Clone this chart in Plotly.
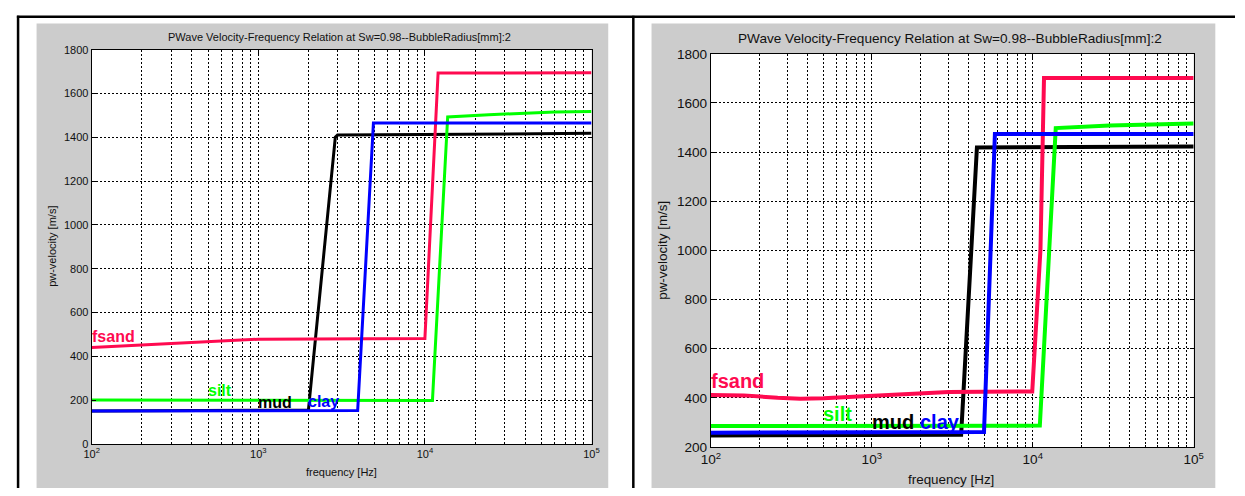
import numpy as np
import plotly.graph_objects as go

W, H = 1245, 496
TITLE = "PWave Velocity-Frequency Relation at Sw=0.98--BubbleRadius[mm]:2"
names = ["mud", "fsand", "silt", "clay"]
colors = {"fsand": "#ff0a50", "silt": "#00ff00", "clay": "#0000ff", "mud": "#000000"}

# ---------- left panel data ----------
L_fsand_f = [100, 200, 400, 600, 1000, 10000, 12000, 100000]
L_fsand_v = [440, 452, 465, 472, 478, 481, 1693, 1695]
L_silt_f = [100, 1000, 11100, 13700, 24200, 60000, 100000]
L_silt_v = [200, 198, 198, 1493, 1503, 1515, 1518]
L_clay_f = [100, 3950, 4910, 100000]
L_clay_v = [150, 152, 1465, 1465]
L_mud_f = [100, 2000, 2900, 2990, 100000]
L_mud_v = [150, 155, 1400, 1410, 1418]
L_label_f = {"fsand": 100, "silt": 500, "mud": 1000, "clay": 2000}
L_label_v = {"fsand": 489, "silt": 242, "mud": 190, "clay": 192}

# ---------- right panel data ----------
R_fsand_f = [100, 160, 260, 360, 500, 800, 1400, 3000, 9930, 11170, 11750, 100000]
R_fsand_v = [412, 410, 400, 396, 398, 404, 414, 424, 426, 1004, 1702, 1702]
R_silt_f = [100, 11070, 13900, 30000, 100000]
R_silt_v = [285, 287, 1498, 1508, 1517]
R_clay_f = [100, 4980, 5820, 100000]
R_clay_v = [258, 261, 1474, 1474]
R_mud_f = [100, 3590, 4500, 33000, 34000, 100000]
R_mud_v = [247, 250, 1419, 1420, 1423, 1423]
R_label_f = {"fsand": 100, "silt": 500, "mud": 1000, "clay": 2000}
R_label_v = {"fsand": 467, "silt": 336, "mud": 303, "clay": 300}

L_yticks = list(range(0, 1801, 200))
R_yticks = list(range(200, 1801, 200))
x_major = [100, 1000, 10000, 100000]
x_major_text = ["10<sup>2</sup>", "10<sup>3</sup>", "10<sup>4</sup>", "10<sup>5</sup>"]
x_minor = [m * 10 ** e for e in (2, 3, 4) for m in range(2, 10)]

left = {"fsand": (L_fsand_f, L_fsand_v), "silt": (L_silt_f, L_silt_v),
        "clay": (L_clay_f, L_clay_v), "mud": (L_mud_f, L_mud_v)}
right = {"fsand": (R_fsand_f, R_fsand_v), "silt": (R_silt_f, R_silt_v),
         "clay": (R_clay_f, R_clay_v), "mud": (R_mud_f, R_mud_v)}

FONT = "Liberation Sans, Arial, Helvetica, sans-serif"

def px(x):
    return x / W

def py(y):
    return 1 - y / H

# plot area pixel boxes in window coordinates (left, top, right, bottom)
LBOX = (83, 44, 591, 450.5)
RBOX = (712.3, 48.3, 1203, 453.7)

fig = go.Figure()
for n in names:
    f, v = left[n]
    fig.add_trace(go.Scatter(x=f, y=v, mode="lines", line=dict(color=colors[n], width=3),
                             xaxis="x", yaxis="y", showlegend=False, name=n))
for n in names:
    f, v = right[n]
    fig.add_trace(go.Scatter(x=f, y=v, mode="lines", line=dict(color=colors[n], width=4),
                             xaxis="x2", yaxis="y2", showlegend=False, name=n))

def xaxis(box, fs):
    return dict(type="log", range=[2, 5], domain=[px(box[0]), px(box[2])],
                tickmode="array", tickvals=x_major, ticktext=x_major_text, ticks="inside", ticklen=4,
                tickcolor="#000", showline=True, linecolor="#000", linewidth=1, mirror="ticks",
                showgrid=True, gridcolor="#000", gridwidth=1, griddash="2px,2px",
                minor=dict(tickmode="array", tickvals=x_minor, ticks="inside", ticklen=2,
                           tickcolor="#000", showgrid=True, gridcolor="#000", gridwidth=1,
                           griddash="2px,2px"),
                zeroline=False, tickfont=dict(family=FONT, size=fs, color="#111"))

def yaxis(box, fs, rng, ticks, anchor):
    return dict(range=rng, domain=[py(box[3]), py(box[1])], tickvals=ticks,
                ticks="inside", ticklen=4, tickcolor="#000", showline=True, linecolor="#000",
                linewidth=1, mirror="ticks", showgrid=True, gridcolor="#000", gridwidth=1,
                griddash="2px,2px", zeroline=False, anchor=anchor,
                tickfont=dict(family=FONT, size=fs, color="#111"))

shapes = [
    dict(type="rect", xref="paper", yref="paper", x0=px(27), x1=px(608), y0=0, y1=py(17),
         fillcolor="#cccccc", line=dict(width=0), layer="below"),
    dict(type="rect", xref="paper", yref="paper", x0=px(652), x1=px(1225), y0=0, y1=py(17),
         fillcolor="#cccccc", line=dict(width=0), layer="below"),
    dict(type="rect", xref="paper", yref="paper", x0=px(LBOX[0]), x1=px(LBOX[2]), y0=py(LBOX[3]), y1=py(LBOX[1]),
         fillcolor="#ffffff", line=dict(width=0), layer="below"),
    dict(type="rect", xref="paper", yref="paper", x0=px(RBOX[0]), x1=px(RBOX[2]), y0=py(RBOX[3]), y1=py(RBOX[1]),
         fillcolor="#ffffff", line=dict(width=0), layer="below"),
    dict(type="line", xref="paper", yref="paper", x0=px(7), x1=1, y0=py(10), y1=py(10),
         line=dict(color="#000", width=2.5)),
    dict(type="line", xref="paper", yref="paper", x0=px(8.2), x1=px(8.2), y0=py(9), y1=0,
         line=dict(color="#000", width=2.5)),
    dict(type="line", xref="paper", yref="paper", x0=px(633.5), x1=px(633.5), y0=py(9), y1=0,
         line=dict(color="#000", width=2.5)),
]

ann = []
def txt(x, y, s, size, angle=0):
    ann.append(dict(x=px(x), y=py(y), xref="paper", yref="paper", text=s, showarrow=False,
                    textangle=angle, xanchor="center", yanchor="middle",
                    font=dict(family=FONT, size=size, color="#111")))

txt(335, 31, TITLE, 11)
txt(955, 32, TITLE, 13.6)
txt(42, 247, "pw-velocity [m/s]", 11, -90)
txt(663, 251, "pw-velocity [m/s]", 13.4, -90)
txt(337, 480, "frequency [Hz]", 11)
txt(956, 487, "frequency [Hz]", 13.4)

for n in ["fsand", "silt", "mud", "clay"]:
    ann.append(dict(x=np.log10(L_label_f[n]), y=L_label_v[n], xref="x", yref="y", text="<b>%s</b>" % n,
                    showarrow=False, xanchor="left", yanchor="middle", xshift=-2,
                    font=dict(family=FONT, size=16, color=colors[n])))
    ann.append(dict(x=np.log10(R_label_f[n]), y=R_label_v[n], xref="x2", yref="y2", text="<b>%s</b>" % n,
                    showarrow=False, xanchor="left", yanchor="middle", xshift=-2,
                    font=dict(family=FONT, size=20, color=colors[n])))

fig.update_layout(
    width=W, height=H, autosize=False, margin=dict(l=0, r=0, t=0, b=0),
    paper_bgcolor="#ffffff", plot_bgcolor="rgba(0,0,0,0)",
    xaxis=xaxis(LBOX, 11) | dict(anchor="y"),
    yaxis=yaxis(LBOX, 11, [0, 1800], L_yticks, "x"),
    xaxis2=xaxis(RBOX, 13.6) | dict(anchor="y2"),
    yaxis2=yaxis(RBOX, 13.6, [200, 1800], R_yticks, "x2"),
    shapes=shapes, annotations=ann, showlegend=False,
)
# remove the default page margin so the 1245x496 figure fills the window exactly
fig.write_html("out.html", config={"displayModeBar": False},
               post_script="document.body.style.margin='0';document.body.style.overflow='hidden';")
